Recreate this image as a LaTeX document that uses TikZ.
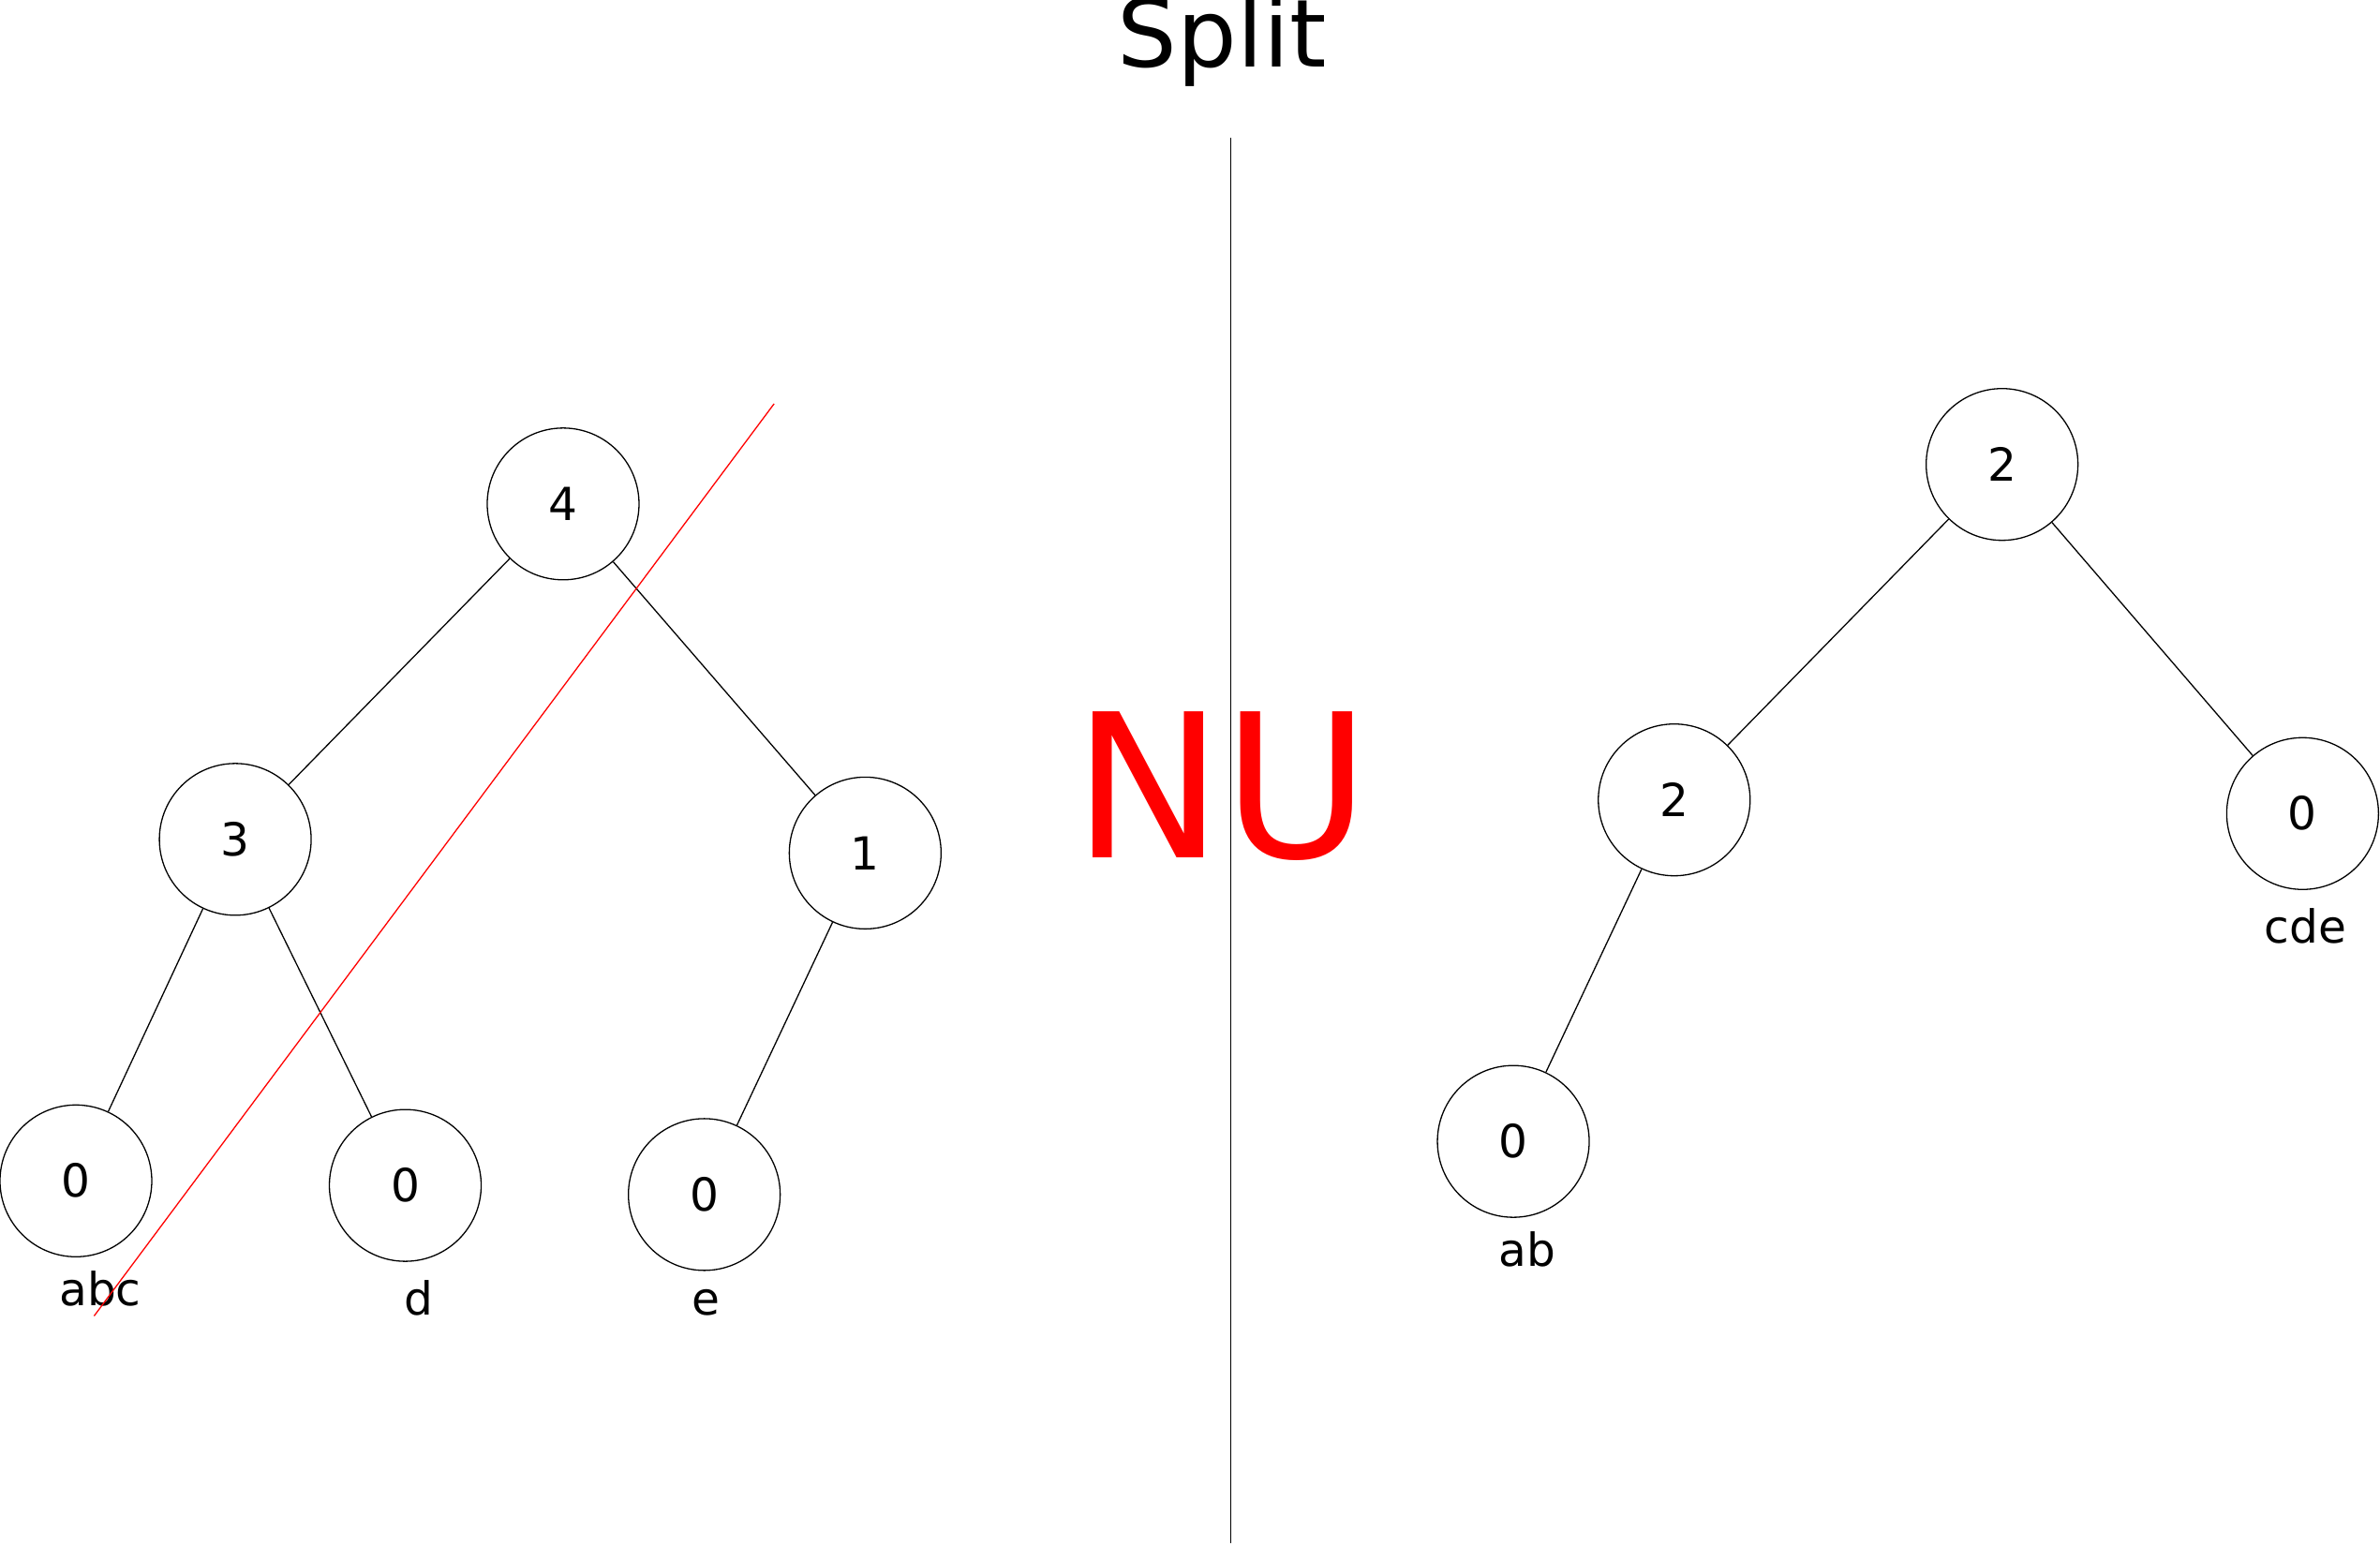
\documentclass[tikz,border=0pt]{standalone}
\usepackage{fontspec}
\setmainfont{DejaVu Sans}
\begin{document}
\begin{tikzpicture}[x=0.5pt,y=-0.5pt,
  tn/.style={circle,draw,line width=0.4pt,minimum size=50pt,inner sep=0pt,font=\fontsize{15}{18}\selectfont},
  lb/.style={font=\fontsize{15}{18}\selectfont},
  ed/.style={draw,line width=0.4pt}]
\useasboundingbox (0,0) rectangle (1568,1018);
\node[font=\fontsize{31}{36}\selectfont] (title) at (805,27) {Split};
\node[font=\fontsize{66}{70}\selectfont,text=red] (nu) at (805,518) {NU};
\coordinate (vt) at (811,91); \coordinate (vb) at (811,1017);
\draw[line width=0.4pt] (vt) -- (vb);
\node[tn] (a4) at (371,332) {4};
\node[tn] (a3) at (155,553) {3};
\node[tn] (a1) at (570,562) {1};
\node[tn] (a0) at (50,778) {0};
\node[tn] (b0) at (267,781) {0};
\node[tn] (c0) at (464,787) {0};
\node[lb] (labc) at (66,849) {abc};
\node[lb] (ld) at (276,855) {d};
\node[lb] (le) at (465,858) {e};
\draw[ed] (a4)--(a3); \draw[ed] (a4)--(a1); \draw[ed] (a3)--(a0); \draw[ed] (a3)--(b0); \draw[ed] (a1)--(c0);
\coordinate (r1) at (510,266); \coordinate (r2) at (62,867);
\draw[red,line width=0.4pt] (r1)--(r2);
\node[tn] (t2) at (1319,306) {2};
\node[tn] (m2) at (1103,527) {2};
\node[tn] (r0) at (1517,536) {0};
\node[tn] (l0) at (997,752) {0};
\node[lb] (lab) at (1006,823) {ab};
\node[lb] (lcde) at (1519,610) {cde};
\draw[ed] (t2)--(m2); \draw[ed] (t2)--(r0); \draw[ed] (m2)--(l0);
\end{tikzpicture}
\end{document}
